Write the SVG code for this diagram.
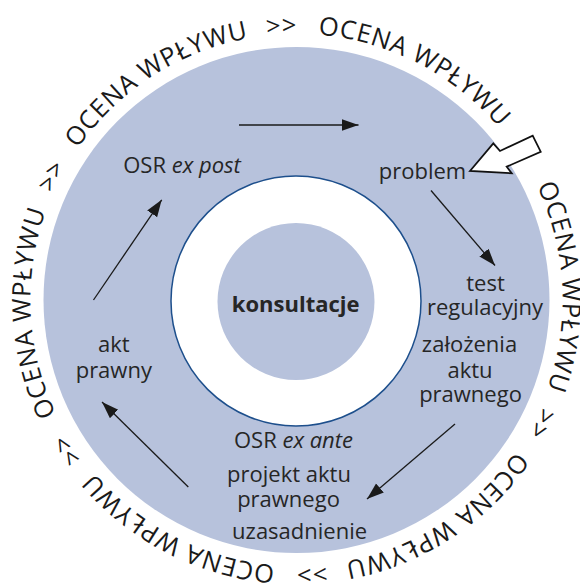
<svg xmlns="http://www.w3.org/2000/svg" xmlns:xlink="http://www.w3.org/1999/xlink" width="580" height="583" viewBox="0 0 580 583">
<style>
.lbl{font-family:"Open Sans","Noto Sans",sans-serif;font-size:22px;fill:#262626;text-anchor:middle}
.it{font-style:italic}
.ring{font-family:"Open Sans","Noto Sans",sans-serif;font-size:25.5px;fill:#1a1a1a;letter-spacing:0.7px}
.con{stroke:#1a1a1a;stroke-width:1.3;fill:none;marker-end:url(#ah)}
</style>
<defs>
<path id="tp" d="M519.59,155.13 A266,266 0 1 1 73.41,444.87 A266,266 0 1 1 519.59,155.13"/>
<marker id="ah" markerUnits="userSpaceOnUse" markerWidth="18" markerHeight="13" refX="17" refY="6" orient="auto">
<path d="M0,0 L17,6 L0,12 z" fill="#1a1a1a"/>
</marker>
</defs>
<rect width="580" height="583" fill="#ffffff"/>
<g id="background">
<circle cx="296.5" cy="300" r="253" fill="#b7c2dc"/>
<circle cx="296" cy="301" r="125" fill="#ffffff" stroke="#1d4f8c" stroke-width="1.5"/>
</g>
<g id="ring-text" class="ring">
<text><textPath xlink:href="#tp" href="#tp" startOffset="139.7" text-anchor="middle">OCENA WPŁYWU</textPath></text>
<text><textPath xlink:href="#tp" href="#tp" startOffset="418.3" text-anchor="middle">OCENA WPŁYWU</textPath></text>
<text><textPath xlink:href="#tp" href="#tp" startOffset="696.9" text-anchor="middle">OCENA WPŁYWU</textPath></text>
<text><textPath xlink:href="#tp" href="#tp" startOffset="975.4" text-anchor="middle">OCENA WPŁYWU</textPath></text>
<text><textPath xlink:href="#tp" href="#tp" startOffset="1254.0" text-anchor="middle">OCENA WPŁYWU</textPath></text>
<text><textPath xlink:href="#tp" href="#tp" startOffset="1532.5" text-anchor="middle">OCENA WPŁYWU</textPath></text>
<text><textPath xlink:href="#tp" href="#tp" startOffset="277.6" text-anchor="middle">&gt;&gt;</textPath></text>
<text><textPath xlink:href="#tp" href="#tp" startOffset="556.2" text-anchor="middle">&gt;&gt;</textPath></text>
<text><textPath xlink:href="#tp" href="#tp" startOffset="834.7" text-anchor="middle">&gt;&gt;</textPath></text>
<text><textPath xlink:href="#tp" href="#tp" startOffset="1113.3" text-anchor="middle">&gt;&gt;</textPath></text>
<text><textPath xlink:href="#tp" href="#tp" startOffset="1391.9" text-anchor="middle">&gt;&gt;</textPath></text>
</g>
<g id="block-arrow">
<path d="M470,171 L493.3,143.3 L500,151 L532.7,135.7 L540.7,151.7 L506.7,166.7 L511.7,173.3 Z" fill="#ffffff" stroke="#111111" stroke-width="1.8" stroke-linejoin="miter"/>
</g>
<g id="connectors">
<line class="con" x1="239" y1="125" x2="358.5" y2="125"/>
<line class="con" x1="431" y1="190.5" x2="495" y2="265.5"/>
<line class="con" x1="455" y1="424" x2="367" y2="499"/>
<line class="con" x1="188.3" y1="487" x2="102" y2="402"/>
<line class="con" x1="93.5" y1="300" x2="161.7" y2="199.8"/>
</g>
<g id="node-konsultacje">
<circle cx="296" cy="301.5" r="78.5" fill="#b7c2dc"/>
<text class="lbl" x="295.7" y="311.7" font-weight="bold" font-size="23">konsultacje</text>
</g>
<g id="node-osr-ex-post">
<text class="lbl" x="182" y="173">OSR <tspan class="it">ex post</tspan></text>
</g>
<g id="node-problem">
<text class="lbl" x="422.5" y="179">problem</text>
</g>
<g id="node-test">
<text class="lbl" x="485.5" y="290.5">test</text>
<text class="lbl" x="485" y="314.5">regulacyjny</text>
</g>
<g id="node-zalozenia">
<text class="lbl" x="469.5" y="352">założenia</text>
<text class="lbl" x="470" y="377.5">aktu</text>
<text class="lbl" x="470.5" y="402">prawnego</text>
</g>
<g id="node-osr-ex-ante">
<text class="lbl" x="293.5" y="448">OSR <tspan class="it">ex ante</tspan></text>
</g>
<g id="node-projekt">
<text class="lbl" x="289" y="481.7">projekt aktu</text>
<text class="lbl" x="288.5" y="506.7">prawnego</text>
</g>
<g id="node-uzasadnienie">
<text class="lbl" x="299.6" y="539">uzasadnienie</text>
</g>
<g id="node-akt">
<text class="lbl" x="113.8" y="352">akt</text>
<text class="lbl" x="113.8" y="378">prawny</text>
</g>
</svg>
